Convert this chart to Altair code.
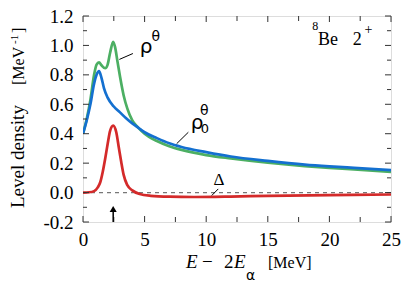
import altair as alt
import pandas as pd

# ---------------- data ----------------
x_rho0 = [0, 0.3, 0.6, 0.9, 1.1, 1.3, 1.5, 1.7, 2.0, 2.5, 3.0, 3.5, 4.0, 4.5, 5.0,
          6.0, 7.0, 8.0, 10, 12, 15, 18, 20, 22, 25]
y_rho0 = [0.40, 0.49, 0.60, 0.74, 0.80, 0.825, 0.78, 0.71, 0.645, 0.585, 0.545, 0.505,
          0.47, 0.44, 0.41, 0.37, 0.335, 0.31, 0.275, 0.245, 0.215, 0.19, 0.178, 0.168, 0.153]

x_rho = [0, 0.3, 0.6, 0.9, 1.1, 1.3, 1.5, 1.8, 2.0, 2.2, 2.45, 2.6, 2.8, 3.0, 3.3, 3.6,
         4.0, 4.5, 5.0, 6.0, 7.0, 8.0, 10, 12, 15, 18, 20, 22, 25]
y_rho = [0.40, 0.50, 0.63, 0.80, 0.87, 0.885, 0.865, 0.845, 0.87, 0.95, 1.025, 0.99,
         0.89, 0.79, 0.66, 0.57, 0.49, 0.44, 0.40, 0.35, 0.315, 0.29, 0.255, 0.232,
         0.203, 0.18, 0.168, 0.158, 0.14]

x_delta = [0, 0.5, 0.9, 1.2, 1.4, 1.6, 1.8, 2.0, 2.2, 2.45, 2.7, 2.9, 3.1, 3.3, 3.6,
           4.0, 4.6, 5.5, 7.0, 9.0, 12, 15, 20, 25]
y_delta = [0.0, 0.002, 0.01, 0.035, 0.07, 0.14, 0.23, 0.33, 0.42, 0.455, 0.41, 0.31,
           0.21, 0.12, 0.05, 0.015, -0.01, -0.022, -0.028, -0.03, -0.027, -0.022,
           -0.017, -0.013]

x_major = [0, 5, 10, 15, 20, 25]
x_minor = [2.5, 7.5, 12.5, 17.5, 22.5]
y_major = [-0.2, 0.0, 0.2, 0.4, 0.6, 0.8, 1.0, 1.2]
y_minor = [-0.1, 0.1, 0.3, 0.5, 0.7, 0.9, 1.1]

arrow_x = 2.45

SERIF = "Liberation Serif"
SANS = "DejaVu Sans"
W, H = 308, 206

xs = alt.Scale(domain=[0, 25], nice=False, zero=False)
ys = alt.Scale(domain=[-0.2, 1.2], nice=False, zero=False)

XAXIS = alt.Axis(values=x_major, ticks=False, domain=False, grid=False,
                 labelFont=SERIF, labelFontSize=19, labelColor="black",
                 labelFlush=False, labelPadding=8, title=None, format="d")
YAXIS = alt.Axis(values=y_major, ticks=False, domain=False, grid=False,
                 labelFont=SERIF, labelFontSize=19, labelColor="black",
                 labelFlush=False, labelPadding=10, title=None,
                 labelExpr="datum.value < -0.001 ? '-' + format(-datum.value, '.1f') : format(abs(datum.value), '.1f')")


def curve(xv, yv, color, width=2.7):
    df = pd.DataFrame({"x": xv, "y": yv})
    return alt.Chart(df).mark_line(color=color, strokeWidth=width,
                                   interpolate="monotone", clip=True).encode(
        x=alt.X("x:Q", scale=xs, axis=XAXIS),
        y=alt.Y("y:Q", scale=ys, axis=YAXIS),
    )


def ticks_y(vals, x0, x1):
    return alt.Chart(pd.DataFrame({"v": vals})).mark_rule(color="#333", strokeWidth=1).encode(
        y=alt.Y("v:Q", scale=ys, axis=YAXIS), x=alt.value(x0), x2=alt.value(x1))


def ticks_x(vals, y0, y1):
    return alt.Chart(pd.DataFrame({"v": vals})).mark_rule(color="#333", strokeWidth=1).encode(
        x=alt.X("v:Q", scale=xs, axis=XAXIS), y=alt.value(y0), y2=alt.value(y1))


ONE = alt.Data(values=[{"a": 1}])


def ptxt(s, x, y, size=18, font=SERIF, style="normal", align="left", angle=0):
    return alt.Chart(ONE).mark_text(text=s, fontSize=size, font=font, fontStyle=style,
                                    align=align, baseline="alphabetic", angle=angle,
                                    color="black").encode(x=alt.value(x), y=alt.value(y))


def dtxt(s, x, y, size=18, font=SERIF, align="left"):
    return alt.Chart(ONE).mark_text(text=s, fontSize=size, font=font, align=align,
                                    baseline="alphabetic", color="black").encode(
        x=alt.X(datum=x, scale=xs, axis=XAXIS),
        y=alt.Y(datum=y, scale=ys, axis=YAXIS))


def seg(x0, y0, x1, y1, width=1.0):
    return alt.Chart(ONE).mark_rule(color="black", strokeWidth=width).encode(
        x=alt.X(datum=x0, scale=xs, axis=XAXIS), y=alt.Y(datum=y0, scale=ys, axis=YAXIS),
        x2=alt.X2(datum=x1), y2=alt.Y2(datum=y1))


zero_line = alt.Chart(pd.DataFrame({"x": [0, 25], "y": [0, 0]})).mark_line(
    color="#777", strokeWidth=1.2, strokeDash=[4, 4]).encode(
    x=alt.X("x:Q", scale=xs, axis=XAXIS), y=alt.Y("y:Q", scale=ys, axis=YAXIS))

arrow_shaft = seg(arrow_x, -0.2, arrow_x, -0.12, width=1.5)
arrow_head = alt.Chart(ONE).mark_point(shape="triangle-up", filled=True, color="black",
                                       size=50, opacity=1).encode(
    x=alt.X(datum=arrow_x, scale=xs, axis=XAXIS), y=alt.Y(datum=-0.112, scale=ys, axis=YAXIS))

layers = [
    zero_line,
    curve(x_rho, y_rho, "#4caf63"),
    curve(x_rho0, y_rho0, "#1470d0"),
    curve(x_delta, y_delta, "#d42a2a"),
    ticks_y(y_major, 0, 6), ticks_y(y_minor, 0, 4),
    ticks_y(y_major, W, W - 6), ticks_y(y_minor, W, W - 4),
    ticks_x(x_major, H, H - 6), ticks_x(x_minor, H, H - 5),
    ticks_x(x_major, 0, 6), ticks_x(x_minor, 0, 5),
    arrow_shaft, arrow_head,
    # leader lines
    seg(2.95, 0.905, 4.05, 0.945),
    seg(7.6, 0.332, 8.55, 0.41),
    seg(10.45, -0.02, 10.98, 0.025),
    # curve labels
    dtxt("ρ", 4.6, 0.95, size=20, font=SANS),
    dtxt("θ", 5.55, 1.03, size=14, font=SANS),
    dtxt("ρ", 8.75, 0.43, size=20, font=SANS),
    dtxt("0", 9.55, 0.405, size=13, font=SANS),
    dtxt("θ", 9.5, 0.525, size=14, font=SANS),
    dtxt("Δ", 10.6, 0.05, size=17, font=SERIF),
    # nucleus label
    dtxt("8", 18.6, 1.105, size=12),
    dtxt("Be", 19.07, 1.002, size=18),
    dtxt("2", 21.9, 1.002, size=18),
    dtxt("+", 22.85, 1.075, size=14),
    # y-axis title
    ptxt("Level density", -59, 192, size=19, angle=270),
    ptxt("[MeV", -59, 69, size=16, angle=270),
    ptxt("-1", -65, 28, size=11, angle=270),
    ptxt("]", -59, 17, size=16, angle=270),
    # x-axis title
    ptxt("E", 103, 252, size=19, style="italic"),
    ptxt("−", 119, 252, size=19),
    ptxt("2", 141, 252, size=19),
    ptxt("E", 151, 252, size=19, style="italic"),
    ptxt("α", 163, 264, size=14, font=SANS),
    ptxt("[MeV]", 185, 252, size=16),
]

chart = alt.layer(*layers).properties(
    width=W, height=H,
    autosize=alt.AutoSizeParams(type="none"),
    padding={"left": 75, "top": 8, "right": 10, "bottom": 64},
).configure_view(stroke="#222", strokeWidth=1).configure_axis(
    labelFont=SERIF, labelFontSize=19, labelColor="black", labelFlush=False
).configure(background="white")

chart.save("out.html", embed_options={"renderer": "svg", "actions": False})
